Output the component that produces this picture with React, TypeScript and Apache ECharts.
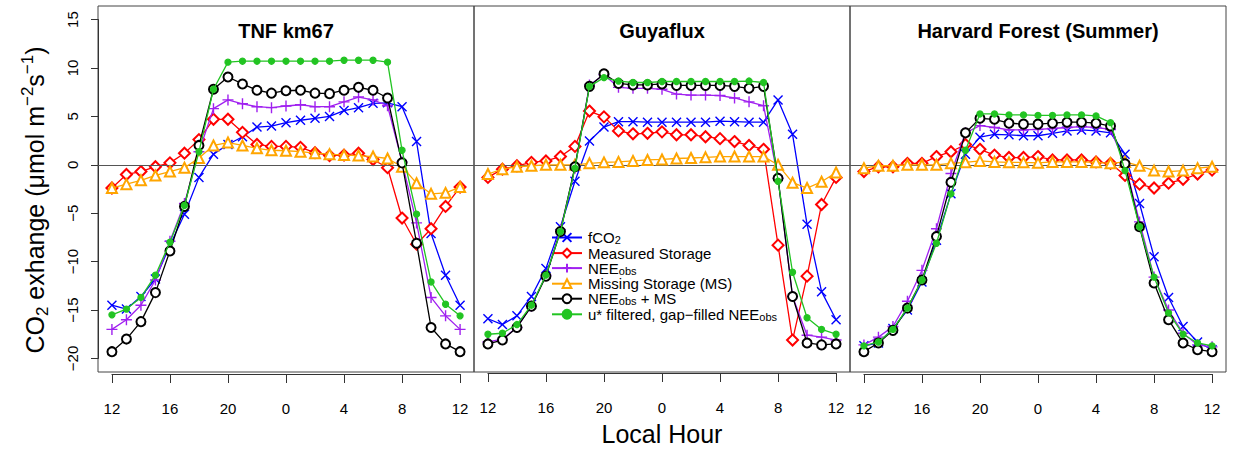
import React, { useEffect, useRef } from "react";
import * as echarts from "echarts";

// ---------- data ----------
const HOURS = [12, 13, 14, 15, 16, 17, 18, 19, 20, 21, 22, 23, 24, 25, 26, 27, 28, 29, 30, 31, 32, 33, 34, 35, 36];
const X_TICK_LABELS = ["12", "16", "20", "0", "4", "8", "12"];
const PANEL_TITLES = ["TNF km67", "Guyaflux", "Harvard Forest (Summer)"];
const SERIES_NAMES = [
  "fCO2",
  "Measured Storage",
  "NEEobs",
  "Missing Storage (MS)",
  "NEEobs + MS",
  "u* filtered, gap-filled NEEobs",
];

// TNF km67
const tnfFco2 = [-14.5, -14.9, -13.6, -11.8, -8.3, -5.1, -1.3, 1.1, 2.1, 2.9, 3.9, 4.0, 4.35, 4.6, 4.8, 5.0, 5.6, 5.9, 6.35, 6.4, 6.0, 2.4, -7.1, -11.4, -14.5];
const tnfStorage = [-2.4, -1.0, -0.7, -0.2, 0.2, 1.2, 2.6, 4.7, 4.7, 3.35, 2.1, 1.9, 1.9, 1.8, 1.25, 0.95, 1.0, 1.2, 0.55, -0.3, -5.5, -8.2, -6.6, -4.3, -2.3];
const tnfNee = [-17.0, -16.0, -14.5, -11.9, -7.9, -4.0, 1.35, 5.8, 6.7, 6.3, 6.0, 5.9, 6.07, 6.2, 6.0, 6.0, 6.5, 7.0, 6.7, 6.1, 0.3, -6.0, -13.7, -15.6, -17.0];
const tnfMissing = [-2.4, -2.0, -1.6, -1.1, -0.7, -0.3, 0.7, 2.0, 2.3, 2.0, 1.7, 1.5, 1.45, 1.35, 1.2, 1.1, 1.0, 0.95, 0.85, 0.65, -0.2, -1.9, -3.0, -2.9, -2.3];
const tnfNeeMs = [-19.3, -18.0, -16.2, -13.2, -8.9, -4.3, 2.0, 7.8, 9.07, 8.35, 7.7, 7.4, 7.65, 7.7, 7.4, 7.35, 7.7, 8.0, 7.7, 6.9, 0.2, -8.1, -16.8, -18.5, -19.3];
const tnfUstar = [-15.5, -14.9, -13.7, -11.4, -8.0, -4.2, 1.35, 7.8, 10.6, 10.7, 10.7, 10.7, 10.7, 10.7, 10.7, 10.7, 10.8, 10.8, 10.8, 10.6, 1.5, -5.1, -12.1, -14.4, -15.6];

// Guyaflux
const guyFco2 = [-15.9, -16.5, -15.6, -13.6, -10.7, -6.4, -1.7, 2.45, 3.9, 4.45, 4.45, 4.4, 4.4, 4.4, 4.4, 4.4, 4.5, 4.45, 4.4, 4.4, 6.7, 3.15, -6.15, -13.1, -16.0];
const guyStorage = [-1.3, -0.45, -0.1, 0.25, 0.4, 0.85, 1.9, 5.55, 4.95, 3.5, 3.2, 3.25, 3.4, 3.1, 3.1, 2.9, 2.7, 2.4, 2.0, 1.6, -8.3, -18.1, -11.5, -4.1, -1.3];
const guyNee = [-18.3, -18.0, -16.8, -14.6, -11.4, -6.7, -0.35, 8.25, 9.3, 8.0, 7.9, 7.9, 7.8, 7.3, 7.2, 7.2, 7.15, 6.9, 6.5, 6.1, -1.4, -13.6, -17.6, -17.8, -18.1];
const guyMissing = [-0.95, -0.45, -0.2, -0.1, 0.0, 0.0, 0.0, 0.15, 0.25, 0.3, 0.4, 0.5, 0.55, 0.65, 0.7, 0.77, 0.85, 0.85, 0.85, 0.85, 0.0, -1.85, -2.4, -1.75, -0.8];
const guyNeeMs = [-18.5, -18.1, -16.8, -14.6, -11.5, -6.9, -0.2, 8.1, 9.4, 8.4, 8.25, 8.25, 8.35, 8.2, 8.2, 8.2, 8.2, 8.1, 7.9, 8.1, -1.4, -13.6, -18.4, -18.6, -18.5];
const guyUstar = [-17.5, -17.4, -16.5, -14.5, -11.4, -6.9, -0.35, 8.1, 9.0, 8.65, 8.5, 8.5, 8.6, 8.6, 8.6, 8.6, 8.6, 8.6, 8.65, 8.5, -1.7, -11.1, -15.8, -17.0, -17.5];

// Harvard Forest (Summer)
const hfFco2 = [-18.7, -18.4, -16.9, -15.0, -12.1, -7.8, -3.0, 1.1, 2.85, 3.15, 3.1, 3.0, 3.0, 3.25, 3.5, 3.6, 3.5, 3.3, 1.1, -4.0, -9.5, -13.7, -16.7, -18.3, -19.1];
const hfStorage = [-0.7, -0.2, -0.2, 0.15, 0.15, 0.85, 1.35, 2.1, 1.6, 1.0, 0.75, 0.75, 0.85, 0.5, 0.5, 0.5, 0.3, 0.15, -1.1, -2.0, -2.4, -1.9, -1.5, -0.95, -0.55];
const hfNee = [-18.6, -17.8, -16.7, -14.1, -10.9, -6.6, -0.9, 3.3, 4.05, 3.85, 3.6, 3.6, 3.65, 3.75, 3.85, 3.95, 3.85, 3.65, 0.1, -5.9, -11.6, -15.0, -17.4, -18.6, -18.8];
const hfMissing = [-0.35, -0.1, -0.1, 0.0, 0.0, 0.0, 0.15, 0.25, 0.4, 0.3, 0.25, 0.25, 0.2, 0.3, 0.3, 0.3, 0.25, 0.15, 0.3, -0.1, -0.6, -0.7, -0.6, -0.35, -0.2];
const hfNeeMs = [-19.3, -18.4, -17.1, -14.8, -11.9, -7.4, -1.8, 3.3, 4.8, 4.7, 4.3, 4.2, 4.2, 4.3, 4.4, 4.4, 4.3, 4.0, 0.1, -6.4, -12.2, -16.0, -18.4, -19.1, -19.3];
const hfUstar = [-18.7, -18.3, -17.0, -14.8, -11.9, -8.1, -3.0, 1.5, 5.25, 5.25, 5.15, 5.15, 5.1, 5.1, 5.15, 5.15, 5.05, 4.35, -0.6, -6.4, -11.6, -15.3, -17.5, -18.4, -18.7];

const PANELS = [
  [tnfFco2, tnfStorage, tnfNee, tnfMissing, tnfNeeMs, tnfUstar],
  [guyFco2, guyStorage, guyNee, guyMissing, guyNeeMs, guyUstar],
  [hfFco2, hfStorage, hfNee, hfMissing, hfNeeMs, hfUstar],
];

// ---------- styles ----------
const FONT = "'Liberation Sans', Arial, Helvetica, sans-serif";
const COLORS = ["#0000ff", "#ff0000", "#a020f0", "#ffa500", "#000000", "#22c422"];
const SYMBOLS = [
  "path://M0,0L10,10M10,0L0,10",
  "emptyDiamond",
  "path://M5,0L5,10M0,5L10,5",
  "emptyTriangle",
  "emptyCircle",
  "circle",
];
const SYMBOL_SIZES = [9, 11, 11, 10, 9, 6];

const LEGEND_RICH: Record<string, string> = {
  "fCO2": "{g| }{a|fCO}{sub|2}",
  "Measured Storage": "{g| }{a|Measured Storage}",
  "NEEobs": "{g| }{a|NEE}{sub|obs}",
  "Missing Storage (MS)": "{g| }{a|Missing Storage (MS)}",
  "NEEobs + MS": "{g| }{a|NEE}{sub|obs}{a| + MS}",
  "u* filtered, gap-filled NEEobs": "{g| }{a|u* filtered, gap\u2212filled NEE}{sub|obs}",
};

const PANEL_LEFT = [98, 474, 850];
const PANEL_W = 376;
const PANEL_TOP = 6;
const PANEL_H = 366;
const X_MIN = 11.04, X_MAX = 36.96;
const Y_MIN = -21.4, Y_MAX = 16.4;

export default function App() {
  const ref = useRef<HTMLDivElement>(null);

  useEffect(() => {
    if (!ref.current) return;
    const chart = echarts.init(ref.current, undefined, { renderer: "svg" });

    const xSpan = X_MAX - X_MIN;
    const ySpan = Y_MAX - Y_MIN;
    const pxPerX = PANEL_W / xSpan;
    const pxPerY = PANEL_H / ySpan;

    const grids: any[] = [];
    const xAxes: any[] = [];
    const yAxes: any[] = [];

    // data grids (framed panels)
    for (let p = 0; p < 3; p++) {
      grids.push({
        left: PANEL_LEFT[p], top: PANEL_TOP, width: PANEL_W, height: PANEL_H,
        show: true, borderColor: "#444", borderWidth: 1, backgroundColor: "transparent",
      });
      xAxes.push({ type: "value", gridIndex: p, min: X_MIN, max: X_MAX, show: false, axisLine: { onZero: false } });
      yAxes.push({ type: "value", gridIndex: p, min: Y_MIN, max: Y_MAX, show: false, axisLine: { onZero: false } });
    }
    // x-axis grids (tick range only)
    for (let p = 0; p < 3; p++) {
      grids.push({
        left: PANEL_LEFT[p] + (12 - X_MIN) * pxPerX,
        width: (36 - 12) * pxPerX,
        top: PANEL_TOP, height: PANEL_H,
      });
      xAxes.push({
        type: "value", gridIndex: 3 + p, min: 12, max: 36, interval: 4, position: "bottom", offset: 2,
        axisLine: { show: true, onZero: false, lineStyle: { color: "#333", width: 1 } },
        axisTick: { show: true, length: 9, lineStyle: { color: "#333", width: 1 } },
        axisLabel: {
          color: "#000", fontSize: 15, fontFamily: FONT, margin: 27,
          formatter: (v: number) => X_TICK_LABELS[Math.round((v - 12) / 4)] ?? "",
        },
        splitLine: { show: false },
        name: p === 1 ? "Local Hour" : "",
        nameLocation: "middle",
        nameGap: 48,
        nameTextStyle: { fontSize: 25, fontFamily: FONT, color: "#000" },
      });
      yAxes.push({ type: "value", gridIndex: 3 + p, min: Y_MIN, max: Y_MAX, show: false, axisLine: { onZero: false } });
    }
    // y-axis grid (tick range only)
    grids.push({
      left: PANEL_LEFT[0], width: PANEL_W,
      top: PANEL_TOP + (Y_MAX - 15) * pxPerY,
      height: 35 * pxPerY,
    });
    xAxes.push({ type: "value", gridIndex: 6, min: X_MIN, max: X_MAX, show: false, axisLine: { onZero: false } });
    yAxes.push({
      type: "value", gridIndex: 6, min: -20, max: 15, interval: 5, position: "left",
      axisLine: { show: true, onZero: false, lineStyle: { color: "#333", width: 1 } },
      axisTick: { show: true, length: 7, lineStyle: { color: "#333", width: 1 } },
      axisLabel: {
        color: "#000", fontSize: 15, fontFamily: FONT, rotate: 90, margin: 18,
        formatter: (v: number) => (v < 0 ? "\u2212" + Math.abs(v) : String(v)),
      },
      splitLine: { show: false },
    });

    const series: any[] = [];
    for (let p = 0; p < 3; p++) {
      for (let s = 0; s < 6; s++) {
        const vals = PANELS[p][s];
        const isPath = SYMBOLS[s].startsWith("path://");
        const ser: any = {
          type: "line",
          name: SERIES_NAMES[s],
          xAxisIndex: p,
          yAxisIndex: p,
          data: HOURS.map((h, i) => [h, vals[i]]),
          symbol: SYMBOLS[s],
          symbolSize: SYMBOL_SIZES[s],
          showAllSymbol: true,
          lineStyle: { color: COLORS[s], width: 1.3 },
          itemStyle: isPath
            ? { color: COLORS[s], borderColor: COLORS[s], borderWidth: 1.4 }
            : { color: COLORS[s], borderColor: COLORS[s], borderWidth: 1.3 },
          emphasis: { disabled: true },
          z: 2 + s,
        };
        if (s === 0) {
          ser.markLine = {
            silent: true,
            symbol: ["none", "none"],
            label: { show: false },
            lineStyle: { color: "#555", type: "solid", width: 1 },
            data: [{ yAxis: 0 }],
            animation: false,
          };
        }
        series.push(ser);
      }
    }

    const graphics: any[] = PANEL_TITLES.map((t, p) => ({
      type: "text",
      x: PANEL_LEFT[p] + PANEL_W / 2,
      y: 31,
      style: {
        text: t, textAlign: "center", textVerticalAlign: "middle",
        font: `bold 20px ${FONT}`, fill: "#000",
      },
    }));
    graphics.push({
      type: "text",
      x: 35,
      y: 200,
      rotation: Math.PI / 2,
      style: {
        text: "{a|CO}{sub|2}{a| exhange (\u03bcmol m}{sup|\u22122}{a|s}{sup|\u22121}{a|)}",
        textAlign: "center",
        textVerticalAlign: "middle",
        font: `25px ${FONT}`,
        fill: "#000",
        rich: {
          a: { fontSize: 25, lineHeight: 32, fontFamily: FONT, fill: "#000", color: "#000" },
          sub: { fontSize: 17, lineHeight: 17, verticalAlign: "bottom", fontFamily: FONT, fill: "#000", color: "#000" },
          sup: { fontSize: 17, lineHeight: 17, verticalAlign: "top", fontFamily: FONT, fill: "#000", color: "#000" },
        },
      },
    });

    chart.setOption({
      animation: false,
      backgroundColor: "#fff",
      grid: grids,
      xAxis: xAxes,
      yAxis: yAxes,
      series,
      graphic: graphics,
      legend: {
        data: SERIES_NAMES,
        orient: "vertical",
        left: 546,
        top: 225,
        itemWidth: 30,
        itemHeight: 11,
        itemGap: 0,
        selectedMode: false,
        formatter: (name: string) => LEGEND_RICH[name] ?? name,
        textStyle: {
          color: "#000", fontSize: 15, fontFamily: FONT,
          rich: {
            g: { width: 1, fontSize: 15, lineHeight: 16.2 },
            a: { fontSize: 15, lineHeight: 16.2, fontFamily: FONT, color: "#000" },
            sub: { fontSize: 11, lineHeight: 11, verticalAlign: "bottom", fontFamily: FONT, color: "#000" },
          },
        },
      },
    });

    return () => chart.dispose();
  }, []);

  return (
    <div
      ref={ref}
      style={{ position: "fixed", left: 0, top: 0, width: 1233, height: 451, background: "#fff" }}
    />
  );
}
